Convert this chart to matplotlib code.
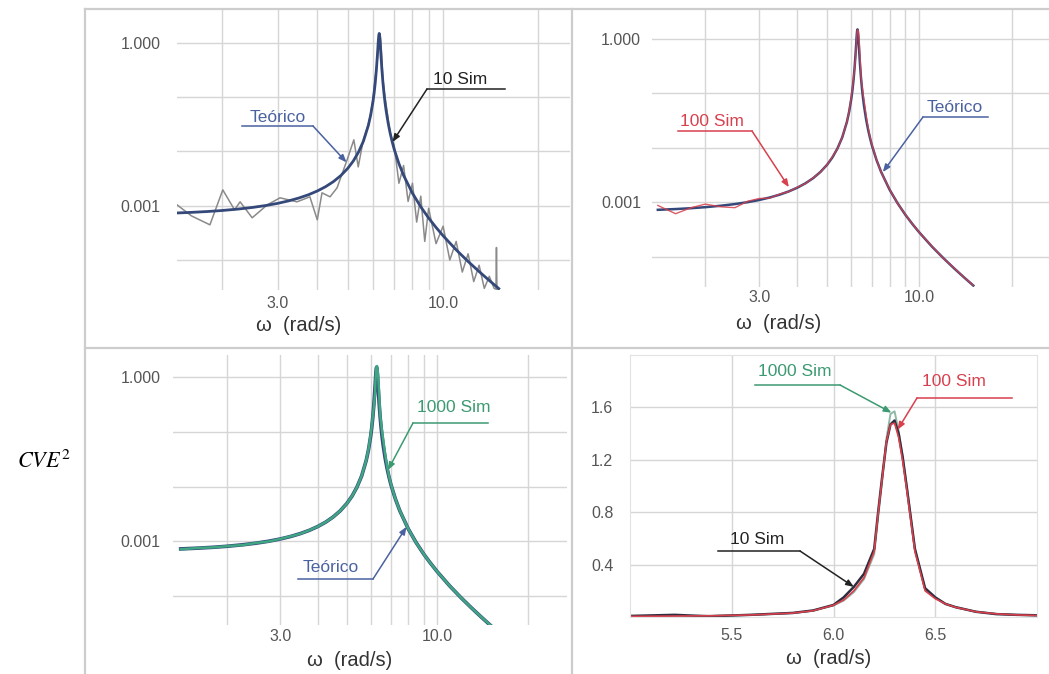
import matplotlib
matplotlib.use("Agg")
import matplotlib.pyplot as plt
from matplotlib.lines import Line2D

plt.rcParams['font.family'] = ['Liberation Sans', 'DejaVu Sans']
plt.rcParams['mathtext.fontset'] = 'stix'

# ---------------- data ----------------
omega = [1.4, 1.6, 1.8, 2.0, 2.25, 2.5, 2.75, 3.0, 3.25, 3.5, 3.75, 4.0, 4.25, 4.5,
         4.75, 5.0, 5.2, 5.4, 5.6, 5.8, 5.9, 6.0, 6.05, 6.1, 6.15, 6.2, 6.22, 6.24,
         6.26, 6.28, 6.30, 6.32, 6.34, 6.36, 6.4, 6.45, 6.5, 6.55, 6.6, 6.7, 6.8,
         6.9, 7.0, 7.25, 7.5, 8.0, 8.5, 9.0, 9.5, 10.0, 11.0, 12.0, 13.0, 14.0, 15.0]

teorico = [7.31e-4, 7.55e-4, 7.83e-4, 8.17e-4, 8.69e-4, 9.32e-4, 1.010e-3, 1.108e-3,
           1.231e-3, 1.389e-3, 1.594e-3, 1.869e-3, 2.246e-3, 2.787e-3, 3.605e-3,
           4.925e-3, 6.68e-3, 9.72e-3, 0.0156, 0.0300, 0.0466, 0.0824, 0.118, 0.183,
           0.314, 0.615, 0.829, 1.105, 1.378, 1.497, 1.364, 1.083, 0.809, 0.596,
           0.340, 0.190, 0.119, 0.0806, 0.0579, 0.0337, 0.0218, 0.0152, 0.0111,
           5.96e-3, 3.63e-3, 1.70e-3, 9.54e-4, 5.94e-4, 3.98e-4, 2.80e-4, 1.54e-4,
           9.39e-5, 6.12e-5, 4.19e-5, 2.98e-5]

sim100 = [8.8e-4, 6.2e-4, 8.0e-4, 9.3e-4, 8.3e-4, 8.0e-4, 1.05e-3, 1.18e-3, 1.20e-3,
          1.42e-3, 1.58e-3, 1.90e-3, 2.22e-3, 2.82e-3, 3.58e-3, 4.95e-3, 6.9e-3,
          9.6e-3, 0.0158, 0.0300, 0.0480, 0.090, 0.13, 0.20, 0.30, 0.50, 0.80,
          1.07, 1.34, 1.47, 1.48, 1.37, 1.19, 0.97, 0.50, 0.20, 0.14, 0.10, 0.074,
          0.040, 0.024, 0.0160, 0.0115, 6.0e-3, 3.6e-3, 1.72e-3, 9.5e-4, 6.0e-4,
          4.0e-4, 2.8e-4, 1.56e-4, 9.3e-5, 6.2e-5, 4.2e-5, 3.0e-5]

sim1000 = [7.2e-4, 7.6e-4, 7.8e-4, 8.2e-4, 8.6e-4, 9.4e-4, 1.0e-3, 1.11e-3, 1.24e-3,
           1.38e-3, 1.60e-3, 1.87e-3, 2.25e-3, 2.78e-3, 3.62e-3, 4.9e-3, 6.7e-3,
           9.7e-3, 0.0157, 0.0302, 0.0478, 0.088, 0.125, 0.19, 0.29, 0.48, 0.77,
           1.05, 1.36, 1.55, 1.57, 1.42, 1.22, 1.00, 0.52, 0.21, 0.145, 0.10, 0.075,
           0.040, 0.024, 0.0158, 0.0114, 5.95e-3, 3.64e-3, 1.70e-3, 9.5e-4,
           5.95e-4, 3.97e-4, 2.8e-4, 1.54e-4, 9.4e-5, 6.1e-5, 4.2e-5, 3.0e-5]

omega10 = [1.44, 1.6, 1.83, 2.01, 2.19, 2.28, 2.49, 2.78, 3.05, 3.45, 3.79, 4.0, 4.14,
           4.39, 4.62, 4.97, 5.22, 5.39, 5.6, 5.8, 5.9, 6.0, 6.05, 6.1, 6.15, 6.2,
           6.22, 6.24, 6.26, 6.28, 6.30, 6.32, 6.34, 6.36, 6.4, 6.45, 6.5, 6.55, 6.6,
           6.7, 6.8, 6.9, 7.0, 7.25, 7.5, 7.75, 8.0, 8.25, 8.5, 8.75, 9.0, 9.5, 10.0,
           10.5, 11.0, 11.5, 12.0, 12.5, 13.0, 13.5, 14.0, 14.5, 14.7, 14.75, 14.8, 15.0]

sim10 = [1.04e-3, 6.5e-4, 4.45e-4, 1.96e-3, 8.4e-4, 1.18e-3, 6.0e-4, 1.04e-3, 1.40e-3,
         1.18e-3, 1.46e-3, 5.5e-4, 1.73e-3, 1.46e-3, 2.14e-3, 7.0e-3, 0.0164, 5.2e-3,
         0.017, 0.031, 0.050, 0.092, 0.15, 0.23, 0.33, 0.52, 0.81, 1.08, 1.33, 1.47,
         1.50, 1.40, 1.22, 0.99, 0.52, 0.22, 0.15, 0.10, 0.075, 0.040, 0.022, 0.0165,
         0.013, 2.6e-3, 5.5e-3, 1.2e-3, 2.6e-3, 5.0e-4, 1.5e-3, 2.2e-4, 9.0e-4,
         2.0e-4, 4.2e-4, 1.0e-4, 2.2e-4, 6.0e-5, 1.3e-4, 4.0e-5, 8.0e-5, 3.0e-5,
         5.0e-5, 3.0e-5, 2.9e-5, 1.7e-4, 2.8e-5, 2.9e-5]

log_xticks = [2, 3, 4, 5, 6, 7, 8, 9, 10, 20]
log_xlabels = ['', '3.0', '', '', '', '', '', '', '10.0', '']
log_yticks = [1e-4, 1e-3, 1e-2, 1e-1, 1.0]
log_ylabels = ['', '0.001', '', '', '1.000']
lin_xticks = [5.5, 6.0, 6.5]
lin_xlabels = ['5.5', '6.0', '6.5']
lin_yticks = [0.4, 0.8, 1.2, 1.6]
lin_ylabels = ['0.4', '0.8', '1.2', '1.6']

# ---------------- styles ----------------
C_TEO = '#34487a'
C_TEO_TXT = '#4a62a0'
C_10 = '#8a8a8a'
C_10_BR = '#2e2e3e'
C_100 = '#d8404e'
C_1000 = '#3fa583'
C_1000_BR = '#8fb8a6'
C_1000_TXT = '#3c9a72'
GRID = '#d6d6d6'
TICK = '#555555'

W, H = 1049, 674
fig = plt.figure(figsize=(W / 100, H / 100), dpi=100)
fig.patch.set_facecolor('white')


def fx(x):
    return x / W


def fy(y):
    return 1 - y / H


def axes_px(x0, y0, x1, y1):
    return fig.add_axes([fx(x0), fy(y1), (x1 - x0) / W, (y1 - y0) / H])


def style_log(ax, xlim, ylim, xpad, ypad):
    ax.set_xscale('log')
    ax.set_yscale('log')
    ax.set_xlim(*xlim)
    ax.set_ylim(*ylim)
    ax.set_xticks(log_xticks)
    ax.set_xticklabels(log_xlabels)
    ax.set_yticks(log_yticks)
    ax.set_yticklabels(log_ylabels)
    ax.minorticks_off()
    ax.tick_params(length=0, labelsize=11.5, colors=TICK)
    ax.tick_params(axis='x', pad=xpad)
    ax.tick_params(axis='y', pad=ypad)
    ax.grid(True, color=GRID, lw=1.0)
    ax.set_axisbelow(True)
    for s in ax.spines.values():
        s.set_visible(False)


def label(ax, text, color, tx, ty, ux0, ux1, uy, sx, sy, tip):
    fig.text(fx(tx), fy(ty), text, color=color, fontsize=12.5, ha='left', va='center')
    fig.add_artist(Line2D([fx(ux0), fx(ux1)], [fy(uy), fy(uy)], color=color, lw=1.1,
                          transform=fig.transFigure))
    ax.annotate('', xy=tip, xycoords='data', xytext=(fx(sx), fy(sy)),
                textcoords='figure fraction', annotation_clip=False,
                arrowprops=dict(arrowstyle='-|>,head_length=0.45,head_width=0.18',
                                color=color, lw=1.1, shrinkA=0, shrinkB=0))


# ---------------- frame lines ----------------
for xs, ys in [([85, 1049], [9, 9]), ([85, 85], [9, 674]), ([572, 572], [9, 674]),
               ([85, 1049], [348, 348])]:
    fig.add_artist(Line2D([fx(v) for v in xs], [fy(v) for v in ys], color='#cdcdcd',
                          lw=1.6, transform=fig.transFigure))

# ---------------- top-left: 10 Sim ----------------
ax1 = axes_px(177, 10, 570, 290)
style_log(ax1, (1.44, 25.2), (2.8e-5, 4.05), 4, 12)
ax1.plot(omega10, sim10, color=C_10, lw=1.1)
ax1.plot(omega, teorico, color=C_TEO, lw=2.0)
label(ax1, 'Teórico', C_TEO_TXT, 250, 117, 242, 313, 126, 313, 126, (4.95, 6.3e-3))
label(ax1, '10 Sim', '#222222', 433, 79, 427, 505, 89, 427, 89, (6.92, 0.015))

# ---------------- top-right: 100 Sim ----------------
ax2 = axes_px(652, 10, 1049, 287)
style_log(ax2, (1.34, 26.5), (2.8e-5, 3.4), 2, 8)
ax2.plot(omega, teorico, color=C_TEO, lw=1.8)
ax2.plot(omega, sim100, color=C_100, lw=1.0, alpha=0.85)
label(ax2, '100 Sim', C_100, 680, 121, 678, 752, 131, 752, 131, (3.75, 1.9e-3))
label(ax2, 'Teórico', C_TEO_TXT, 927, 107, 923, 988, 117, 923, 117, (7.6, 3.6e-3))

# ---------------- bottom-left: 1000 Sim ----------------
ax3 = axes_px(173, 355, 567, 625)
style_log(ax3, (1.32, 27.0), (3.0e-5, 2.5), 3, 9)
ax3.plot(omega, teorico, color=C_TEO, lw=2.6)
ax3.plot(omega, sim1000, color=C_1000, lw=1.8)
label(ax3, '1000 Sim', C_1000_TXT, 417, 407, 413, 488, 423, 413, 423, (6.85, 0.02))
label(ax3, 'Teórico', C_TEO_TXT, 303, 568, 298, 373, 579, 373, 579, (7.9, 1.85e-3))

# ---------------- bottom-right: linear zoom ----------------
ax4 = axes_px(630, 355, 1037, 617)
ax4.set_xlim(5.0, 7.0)
ax4.set_ylim(0, 2.0)
ax4.set_xticks(lin_xticks)
ax4.set_xticklabels(lin_xlabels)
ax4.set_yticks(lin_yticks)
ax4.set_yticklabels(lin_ylabels)
ax4.tick_params(length=0, labelsize=11.5, colors=TICK)
ax4.tick_params(axis='x', pad=8)
ax4.tick_params(axis='y', pad=12)
ax4.grid(True, color=GRID, lw=1.0)
ax4.set_axisbelow(True)
for s in ax4.spines.values():
    s.set_color('#e2e2e2')
ax4.plot(omega, sim1000, color=C_1000_BR, lw=1.4)
ax4.plot(omega10, sim10, color=C_10_BR, lw=1.8)
ax4.plot(omega, sim100, color=C_100, lw=1.2)
label(ax4, '1000 Sim', C_1000_TXT, 758, 372, 755, 840, 385, 840, 385, (6.285, 1.56))
label(ax4, '100 Sim', C_100, 922, 382, 917, 1012, 398, 917, 398, (6.315, 1.43))
label(ax4, '10 Sim', '#222222', 730, 539, 718, 800, 551, 800, 551, (6.1, 0.23))

# ---------------- axis titles ----------------
for cx, cy in [(299, 325), (779, 323), (350, 661), (829, 658)]:
    fig.text(fx(cx), fy(cy), 'ω  (rad/s)', fontsize=14.5, color='#333333',
             ha='center', va='center')

fig.text(fx(44), fy(462), r'$CVE^{2}$', fontsize=16, color='black',
         ha='center', va='center')

fig.savefig('out.png', dpi=100, facecolor='white')
